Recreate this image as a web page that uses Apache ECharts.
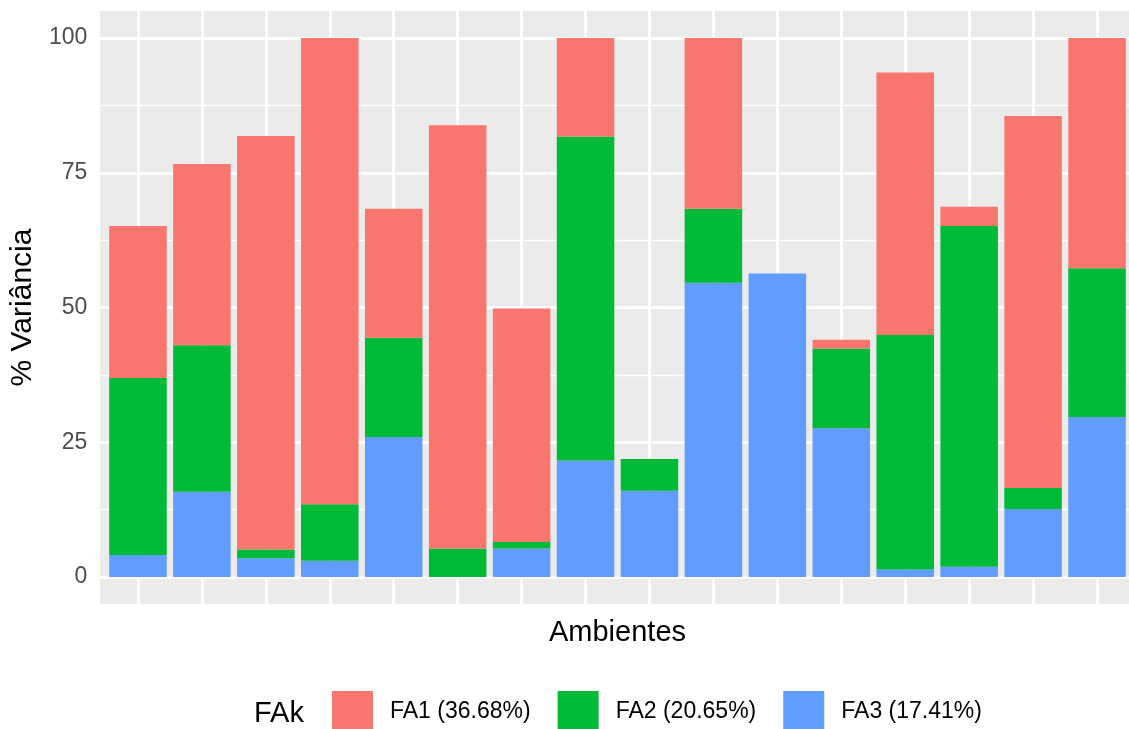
<!DOCTYPE html>
<html>
<head>
<meta charset="utf-8">
<title>% Variância por ambiente</title>
<script src="https://cdn.jsdelivr.net/npm/echarts@6/dist/echarts.min.js"></script>
<style>
  html, body { margin: 0; padding: 0; background: #ffffff; }
  #chart { width: 1129px; height: 729px; }
</style>
</head>
<body>
<div id="chart"></div>
<script>
// Ambientes (16 environments, no tick labels drawn on the x axis)
const ambientes = ['A1', 'A2', 'A3', 'A4', 'A5', 'A6', 'A7', 'A8',
                   'A9', 'A10', 'A11', 'A12', 'A13', 'A14', 'A15', 'A16'];

// % of variance explained by each factor, per environment
const fa1 = [28.2, 33.6, 76.7, 86.5, 23.9, 78.5, 43.3, 18.3, 0.0, 31.7, 0.0, 1.6, 48.7, 3.6, 69.0, 42.7];
const fa2 = [32.8, 27.2, 1.6, 10.5, 18.4, 5.3, 1.2, 60.1, 5.9, 13.7, 0.0, 14.8, 43.5, 63.2, 3.9, 27.6];
const fa3 = [4.1, 15.8, 3.5, 3.0, 26.0, 0.0, 5.3, 21.6, 16.0, 54.6, 56.3, 27.6, 1.4, 1.9, 12.6, 29.7];

const seriesNames = ['FA1 (36.68%)', 'FA2 (20.65%)', 'FA3 (17.41%)'];
const yTicks = [0, 25, 50, 75, 100];

const FONT = "'Liberation Sans', Arial, Helvetica, sans-serif";
const COLORS = { fa1: '#F8766D', fa2: '#00BA38', fa3: '#619CFF' };

const chart = echarts.init(document.getElementById('chart'), null, { renderer: 'canvas' });

const option = {
  animation: false,
  backgroundColor: '#ffffff',
  textStyle: { fontFamily: FONT },
  graphic: {
    elements: [
      {
        // grey plotting panel (includes the expansion above 100 and below 0)
        type: 'rect',
        z: -1,
        silent: true,
        shape: { x: 100, y: 11, width: 1041, height: 593 },
        style: { fill: '#EBEBEB' }
      },
      {
        type: 'text',
        left: 254,
        top: 699,
        silent: true,
        style: {
          text: 'FAk',
          font: '29px ' + FONT,
          fill: '#000000'
        }
      }
    ]
  },
  legend: {
    data: seriesNames,
    left: 332,
    top: 691,
    padding: 0,
    orient: 'horizontal',
    icon: 'rect',
    itemWidth: 41,
    itemHeight: 42,
    itemGap: 27,
    selectedMode: false,
    textStyle: {
      fontFamily: FONT,
      fontSize: 23,
      color: '#000000',
      padding: [0, 0, 0, 12]
    }
  },
  grid: [
    // grid 0: bars + vertical grid lines, spans the full panel height
    { left: 106, right: -5, top: 11, bottom: 125, containLabel: false },
    // grid 1: horizontal grid lines and y labels for 0..100
    { left: 100, right: -12, top: 38, bottom: 152, containLabel: false }
  ],
  xAxis: [
    {
      type: 'category',
      gridIndex: 0,
      data: ambientes,
      boundaryGap: true,
      axisLine: { show: false },
      axisTick: { show: false, alignWithLabel: true },
      axisLabel: { show: false },
      splitLine: {
        show: true,
        alignWithLabel: true,
        lineStyle: { color: '#ffffff', width: 2.8 }
      },
      name: 'Ambientes',
      nameLocation: 'middle',
      nameGap: 14,
      nameTextStyle: { fontFamily: FONT, fontSize: 29, color: '#000000' }
    },
    {
      type: 'value',
      gridIndex: 1,
      show: false,
      splitLine: { show: false }
    }
  ],
  yAxis: [
    {
      type: 'value',
      gridIndex: 0,
      min: -5,
      max: 105,
      show: false,
      splitLine: { show: false }
    },
    {
      type: 'value',
      gridIndex: 1,
      min: 0,
      max: 100,
      interval: 25,
      axisLine: { show: false },
      axisTick: { show: false },
      axisLabel: {
        show: true,
        margin: 13,
        fontFamily: FONT,
        fontSize: 23,
        color: '#4D4D4D',
        formatter: function (v) { return yTicks.indexOf(v) >= 0 ? String(v) : ''; }
      },
      splitLine: { show: true, lineStyle: { color: '#ffffff', width: 2.8 } },
      minorTick: { show: false, splitNumber: 2 },
      minorSplitLine: { show: true, lineStyle: { color: '#ffffff', width: 1.4 } },
      name: '% Variância',
      nameLocation: 'middle',
      nameGap: 53,
      nameRotate: 90,
      nameTextStyle: { fontFamily: FONT, fontSize: 30, color: '#000000' }
    }
  ],
  series: [
    {
      name: seriesNames[2],
      type: 'bar',
      stack: 'total',
      xAxisIndex: 0,
      yAxisIndex: 0,
      data: fa3,
      barWidth: '90%',
      itemStyle: { color: COLORS.fa3 }
    },
    {
      name: seriesNames[1],
      type: 'bar',
      stack: 'total',
      xAxisIndex: 0,
      yAxisIndex: 0,
      data: fa2,
      barWidth: '90%',
      itemStyle: { color: COLORS.fa2 }
    },
    {
      name: seriesNames[0],
      type: 'bar',
      stack: 'total',
      xAxisIndex: 0,
      yAxisIndex: 0,
      data: fa1,
      barWidth: '90%',
      itemStyle: { color: COLORS.fa1 }
    }
  ]
};

chart.setOption(option);
</script>
</body>
</html>
